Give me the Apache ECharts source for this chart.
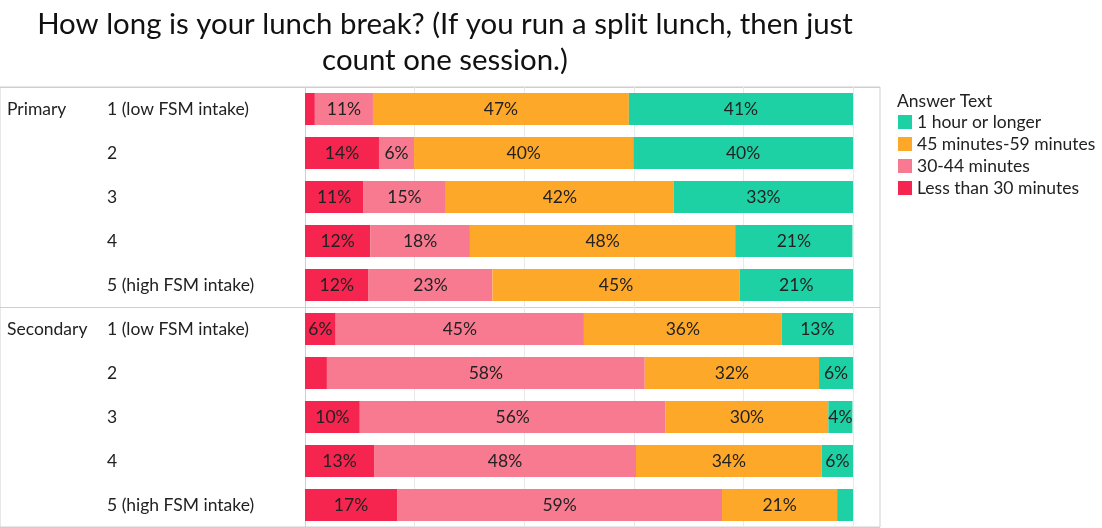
<!DOCTYPE html>
<html>
<head>
<meta charset="utf-8">
<script src="https://cdn.jsdelivr.net/npm/echarts@6/dist/echarts.min.js"></script>
<style>html,body{margin:0;padding:0;background:#fff}#c{width:1102px;height:528px}</style>
</head>
<body>
<div id="c"></div>
<script>
const groups = ['Primary', 'Secondary'];
const subcats = ['1 (low FSM intake)', '2', '3', '4', '5 (high FSM intake)'];
const seriesNames = ['Less than 30 minutes', '30-44 minutes', '45 minutes-59 minutes', '1 hour or longer'];
const lessThan30 = [1.8, 13.5, 10.6, 11.9, 11.6, 5.6, 4.0, 10.0, 12.6, 16.8];
const min30to44 = [10.6, 6.4, 15.1, 18.2, 22.6, 45.3, 58.0, 55.8, 47.8, 59.3];
const min45to59 = [46.7, 40.0, 41.6, 48.4, 45.1, 36.1, 31.8, 29.7, 33.9, 21.0];
const hourOrMore = [40.9, 40.1, 32.8, 21.4, 20.8, 13.0, 6.2, 4.4, 5.7, 2.9];
const legendOrder = ['1 hour or longer', '45 minutes-59 minutes', '30-44 minutes', 'Less than 30 minutes'];
const colors = ['#F52550', '#F77A90', '#FEA82A', '#1ED1A4'];

const rowKeys = [];
groups.forEach(g => subcats.forEach(s => rowKeys.push(g + '|' + s)));
const values = [lessThan30, min30to44, min45to59, hourOrMore];
const font = 'Lato, "Noto Sans", sans-serif';

const chart = echarts.init(document.getElementById('c'));
chart.setOption({
  animation: false,
  textStyle: { fontFamily: font },
  title: [
    { text: 'How long is your lunch break? (If you run a split lunch, then just\ncount one session.)',
      left: 440, top: 2, textAlign: 'center',
      textStyle: { fontFamily: font, fontSize: 29.4, fontWeight: 'normal', color: '#111', lineHeight: 36 } },
    { text: 'Answer Text', left: 892, top: 87,
      textStyle: { fontFamily: font, fontSize: 17.5, fontWeight: 'normal', color: '#222' } }
  ],
  legend: {
    data: legendOrder, orient: 'vertical', left: 893, top: 108,
    icon: 'rect', itemWidth: 14, itemHeight: 14, itemGap: 4,
    textStyle: { fontFamily: font, fontSize: 17.5, color: '#222', lineHeight: 17 }
  },
  grid: [
    { left: 305, right: 249, top: 87, bottom: 1, outerBoundsMode: 'none', containLabel: false },
    { left: 0, right: 222, top: 87, bottom: 1, outerBoundsMode: 'none', containLabel: false,
      show: true, borderColor: '#cfcfcf', borderWidth: 1, backgroundColor: 'transparent' }
  ],
  xAxis: [
    { gridIndex: 0, type: 'value', min: 0, max: 100, interval: 20,
      axisLabel: { show: false }, axisLine: { show: false }, axisTick: { show: false },
      splitLine: { show: true, lineStyle: { color: '#e9e9e9' } } },
    { gridIndex: 1, type: 'value', show: false }
  ],
  yAxis: [
    { gridIndex: 0, type: 'category', inverse: true, data: rowKeys,
      axisLine: { show: true, lineStyle: { color: '#cfcfcf' } }, axisTick: { show: false },
      axisLabel: { align: 'left', margin: 198, fontSize: 17.5, color: '#222', fontFamily: font,
        formatter: v => v.split('|')[1] } },
    { gridIndex: 0, type: 'category', inverse: true, data: rowKeys, position: 'left', offset: 0,
      axisLine: { show: false }, axisTick: { show: false },
      axisLabel: { align: 'left', margin: 298, fontSize: 17.5, color: '#222', fontFamily: font,
        interval: 0,
        formatter: (v, i) => (i % subcats.length === 0 ? v.split('|')[0] : '') } },
    { gridIndex: 1, type: 'category', inverse: true, data: groups,
      axisLine: { show: false }, axisTick: { show: false }, axisLabel: { show: false },
      splitLine: { show: true, lineStyle: { color: '#cfcfcf' } } }
  ],
  series: seriesNames.map((name, k) => ({
    name, type: 'bar', stack: 'all', xAxisIndex: 0, yAxisIndex: 0,
    barWidth: 32,
    itemStyle: { color: colors[k] },
    label: { show: true, position: 'inside', fontSize: 17.5, color: '#222', fontFamily: font,
      formatter: p => (p.value >= 4.2 ? Math.round(p.value) + '%' : '') },
    data: values[k]
  }))
});
</script>
</body>
</html>
